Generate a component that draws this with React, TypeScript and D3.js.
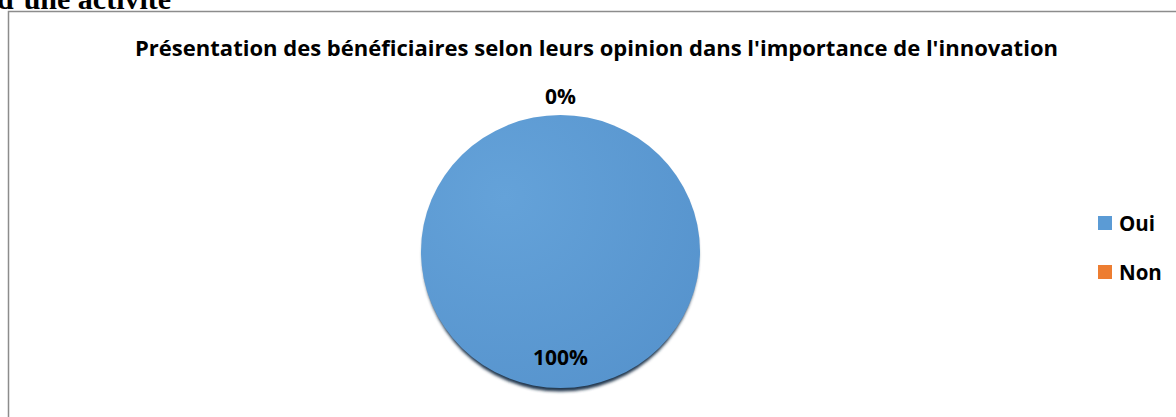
import React from "react";
import * as d3 from "d3";

const title = "Présentation des bénéficiaires selon leurs opinion dans l'importance de l'innovation";
const categories = ["Oui", "Non"];
const values = [100, 0];
const colors = ["#5B9BD5", "#ED7D31"];
const pctLabels = ["100%", "0%"];

export default function App() {
  const W = 1176, H = 417;
  const cx = 560.5, cy = 251.5, rx = 139.5, ry = 136.5;
  const pie = d3.pie<number>().sort(null).startAngle(0).endAngle(2 * Math.PI)(values);
  const arc = d3.arc<d3.PieArcDatum<number>>().innerRadius(0).outerRadius(rx);
  const font = "'Open Sans', sans-serif";
  return (
    <svg width={W} height={H} style={{ position: "absolute", left: 0, top: 0, display: "block" }}>
      <defs>
        <radialGradient id="g0" cx="0.3" cy="0.3" r="0.9">
          <stop offset="0" stopColor="#64A2D9" />
          <stop offset="1" stopColor="#5592CC" />
        </radialGradient>
        <filter id="blur" x="-20%" y="-20%" width="140%" height="140%">
          <feGaussianBlur stdDeviation="1.5" />
        </filter>
      </defs>
      <rect x={0} y={0} width={W} height={H} fill="#fff" />
      <text x={-3} y={9} fontFamily="'Liberation Serif', 'Times New Roman', serif" fontWeight="bold" fontSize={30} fill="#000">d’une activité</text>
      <rect x={8.5} y={11.5} width={W + 10} height={H + 10} fill="#fff" stroke="#8c8c8c" strokeWidth={1.5} />
      <text x={596.5} y={56} textAnchor="middle" fontFamily={font} fontWeight="bold" fontSize={20.5} textLength={923} lengthAdjust="spacingAndGlyphs" fill="#000">{title}</text>
      <g transform={`translate(${cx},${cy})`}>
        <ellipse cx={0} cy={3.5} rx={rx - 1.5} ry={ry} fill="#22394f" filter="url(#blur)" />
        <g transform={`scale(1,${ry / rx})`}>
          {pie.map((d, i) => (
            <path key={i} d={arc(d) || ""} fill={i === 0 ? "url(#g0)" : colors[i]} />
          ))}
        </g>
      </g>
      <text x={cx} y={104} textAnchor="middle" fontFamily={font} fontWeight="bold" fontSize={21} fill="#000">{pctLabels[1]}</text>
      <text x={cx} y={365} textAnchor="middle" fontFamily={font} fontWeight="bold" fontSize={21} fill="#000">{pctLabels[0]}</text>
      {categories.map((c, i) => (
        <g key={c} transform={`translate(1098,${216 + i * 49})`}>
          <rect x={0} y={0} width={14} height={14} fill={colors[i]} />
          <text x={21} y={15} fontFamily={font} fontWeight="bold" fontSize={20.5} fill="#000">{c}</text>
        </g>
      ))}
    </svg>
  );
}
